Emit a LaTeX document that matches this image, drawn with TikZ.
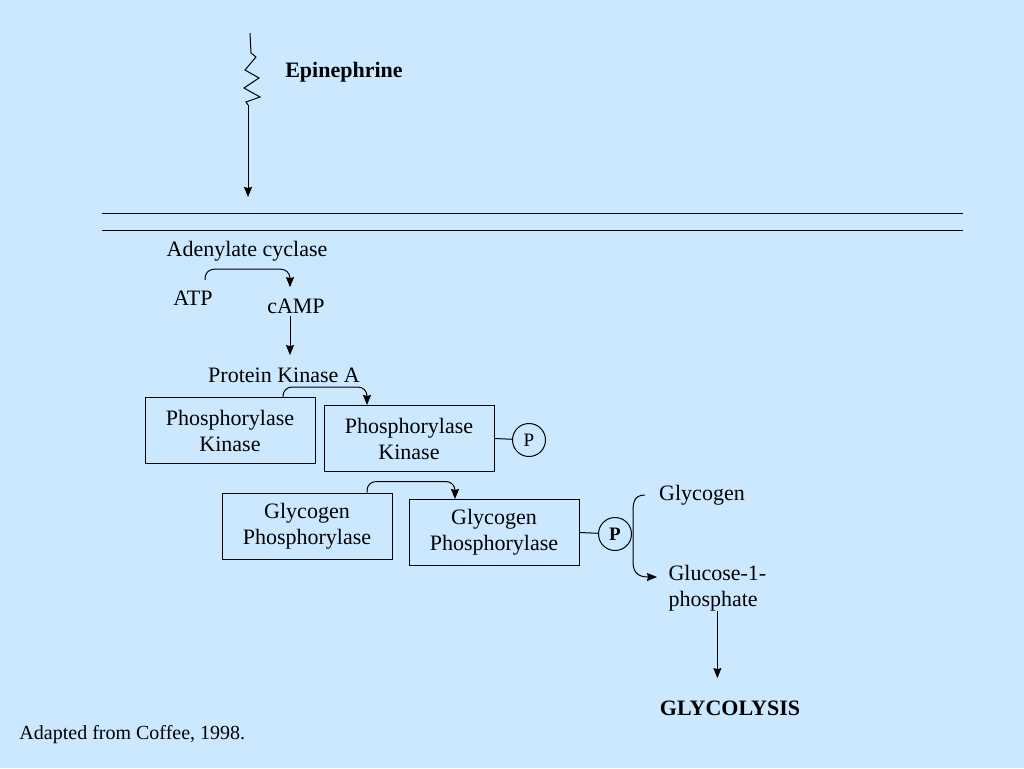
\documentclass[tikz,border=0pt]{standalone}
\usepackage{fontspec}
\setmainfont{Liberation Serif}
\usetikzlibrary{arrows.meta}
\definecolor{slide}{RGB}{204,232,255}

\begin{document}
\begin{tikzpicture}[x=1pt,y=-1pt,line width=1pt,
    txt/.style={inner sep=2pt,font=\fontsize{22}{26}\selectfont,align=center},
    enzbox/.style={txt,draw,minimum width=170pt,minimum height=66pt},
    pcirc/.style={circle,draw,minimum size=33pt,inner sep=0pt,font=\fontsize{19}{20}\selectfont},
    arr/.style={-{Stealth[length=10pt,width=8pt,inset=1pt]}},
    curvearr/.style={arr,rounded corners=9pt}]
  \fill[slide] (0,0) rectangle (1024,768);
  \useasboundingbox (0,0) rectangle (1024,768);
  % receptor and membrane
  \node[txt,font=\fontsize{22}{26}\selectfont\bfseries] (epi) at (344,72) {Epinephrine};
  \coordinate (rec) at (248,105);
  \coordinate (mem) at (248,197);
  \draw (250,33) -- (251,53) -- (256,57) -- (245,70) -- (259,78) -- (244,88)
        -- (260,97) -- (246,102) -- (rec);
  \draw[arr] (rec) -- (mem);
  \draw (102,213) -- (963,213);
  \draw (102,230) -- (963,230);
  % second messenger
  \node[txt] (ac) at (247,251) {Adenylate cyclase};
  \node[txt] (atp) at (193,298) {ATP};
  \node[txt] (camp) at (296,306) {cAMP};
  \node[txt] (pka) at (284,375) {Protein Kinase A};
  \draw[curvearr] ([xshift=12pt,yshift=8pt]atp.north) -- ++(0,-11)
        -| ([xshift=-6pt,yshift=9pt]camp.north);
  \draw[arr,shorten >=10pt] ([xshift=-6pt]camp.south) -- ([xshift=6pt]pka.north);
  % kinase cascade
  \node[enzbox] (pk1) at (230,430.5) {Phosphorylase\\Kinase};
  \node[enzbox] (pk2) at (409,438.5) {Phosphorylase\\Kinase};
  \node[pcirc] (p1) at (529,440) {P};
  \draw (pk2.east) -- (p1);
  \draw[curvearr] ([xshift=53pt]pk1.north) -- ++(0,-10) -| ([xshift=-42pt]pk2.north);
  \node[enzbox] (gp1) at (307,526) {Glycogen\\Phosphorylase};
  \node[enzbox] (gp2) at (494,532.5) {Glycogen\\Phosphorylase};
  \node[pcirc,font=\fontsize{19}{20}\selectfont\bfseries] (p2) at (615,534) {P};
  \draw (gp2.east) -- (p2);
  \draw[curvearr] ([xshift=60pt]gp1.north) -- ++(0,-11) -| ([xshift=-39pt]gp2.north);
  % products
  \node[txt] (glyc) at (702,495) {Glycogen};
  \node[txt,align=left,anchor=west,inner sep=0pt] (g1p) at (668,588) {Glucose-1-\\phosphate};
  \node[txt,font=\fontsize{22}{26}\selectfont\bfseries] (gly) at (730,708) {GLYCOLYSIS};
  \draw[arr] ([xshift=-12pt]glyc.west) .. controls (633,495) and (633,505) .. (633,512)
        -- (633,562) .. controls (633,574) and (640,577) .. ([xshift=-11pt,yshift=11pt]g1p.west);
  \draw[arr,shorten >=20pt] (g1p.south) -- (g1p.south |- gly.north);
  \node[anchor=west,inner sep=0pt,font=\fontsize{20}{22}\selectfont] (src) at (19,735) {Adapted from Coffee, 1998.};
\end{tikzpicture}
\end{document}
